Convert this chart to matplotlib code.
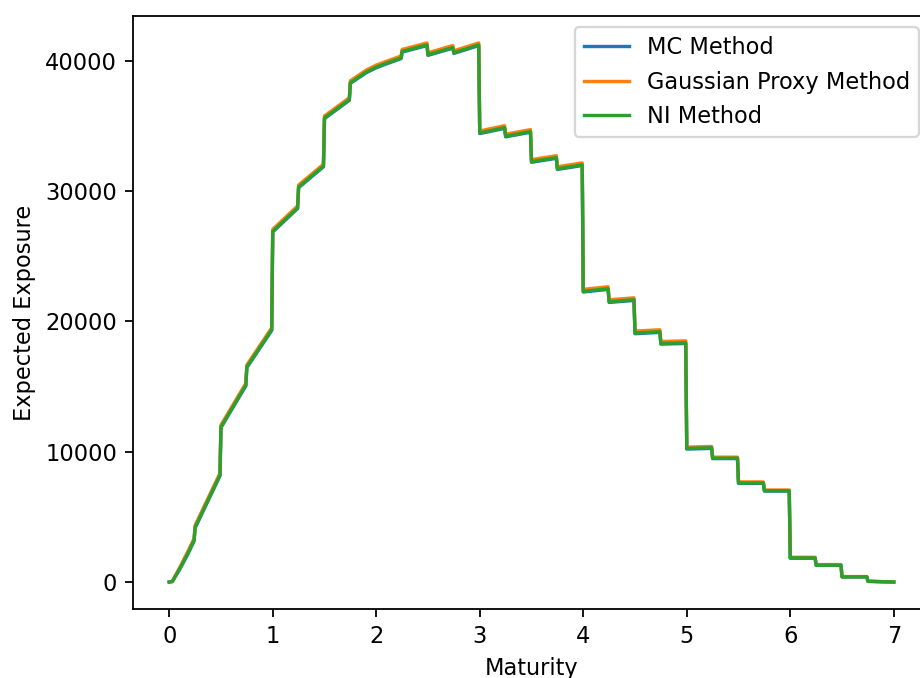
import matplotlib
matplotlib.use("Agg")
from matplotlib import pyplot as plt

# time grid (years) and expected exposure
t = [0.0, 0.03, 0.1, 0.18, 0.24, 0.25, 0.49, 0.5, 0.74, 0.75, 0.99, 1.0,
     1.24, 1.25, 1.49, 1.5, 1.74, 1.75, 1.9, 2.0, 2.1, 2.24, 2.25, 2.49,
     2.5, 2.74, 2.75, 2.99, 3.0, 3.24, 3.25, 3.49, 3.5, 3.74, 3.75, 3.99,
     4.0, 4.24, 4.25, 4.49, 4.5, 4.74, 4.75, 4.99, 5.0, 5.24, 5.25, 5.49,
     5.5, 5.74, 5.75, 5.99, 6.0, 6.24, 6.25, 6.49, 6.5, 6.74, 6.75, 7.0]

ni = [0, 50, 1000, 2200, 3200, 4200, 8200, 11900, 15100, 16500, 19350, 26900,
      28700, 30300, 31900, 35600, 37000, 38300, 39100, 39500, 39800, 40200, 40700, 41200,
      40450, 41000, 40600, 41200, 34450, 34850, 34200, 34550, 32250, 32550, 31700, 32000,
      22300, 22500, 21500, 21650, 19100, 19200, 18300, 18350, 10250, 10300, 9500, 9500,
      7600, 7600, 7000, 7000, 1850, 1850, 1300, 1300, 400, 400, 60, 0]

gp = [0, 60, 1100, 2350, 3350, 4350, 8350, 12050, 15250, 16650, 19500, 27050,
      28850, 30450, 32050, 35750, 37150, 38450, 39250, 39650, 39950, 40350, 40850, 41350,
      40600, 41150, 40750, 41350, 34600, 35000, 34350, 34700, 32400, 32700, 31850, 32150,
      22450, 22650, 21650, 21800, 19250, 19350, 18450, 18500, 10350, 10400, 9580, 9580,
      7680, 7680, 7060, 7060, 1900, 1900, 1340, 1340, 420, 420, 70, 0]

mc = [0, 40, 960, 2150, 3150, 4150, 8150, 11850, 15050, 16450, 19300, 26850,
      28650, 30250, 31850, 35550, 36950, 38250, 39050, 39450, 39750, 40150, 40650, 41150,
      40400, 40950, 40550, 41150, 34400, 34800, 34150, 34500, 32200, 32500, 31650, 31950,
      22250, 22450, 21450, 21600, 19050, 19150, 18250, 18300, 10200, 10250, 9470, 9470,
      7570, 7570, 6980, 6980, 1830, 1830, 1280, 1280, 390, 390, 50, 0]

W, H, dpi = 920, 678, 162
fig = plt.figure(figsize=(W/dpi, H/dpi), dpi=dpi)
# the original image is cropped: right spine and x-label fall partly outside
ax = fig.add_axes([133/W, 1 - 609/H, 797/W, 593/H])
ax.plot(t, mc, label="MC Method")
ax.plot(t, gp, label="Gaussian Proxy Method")
ax.plot(t, ni, label="NI Method")
ax.set_xlim(-0.35, 7.35)
ax.set_xlabel("Maturity")
ax.set_ylabel("Expected Exposure")
ax.legend(loc="upper right")
fig.savefig("out.png", dpi=dpi)
